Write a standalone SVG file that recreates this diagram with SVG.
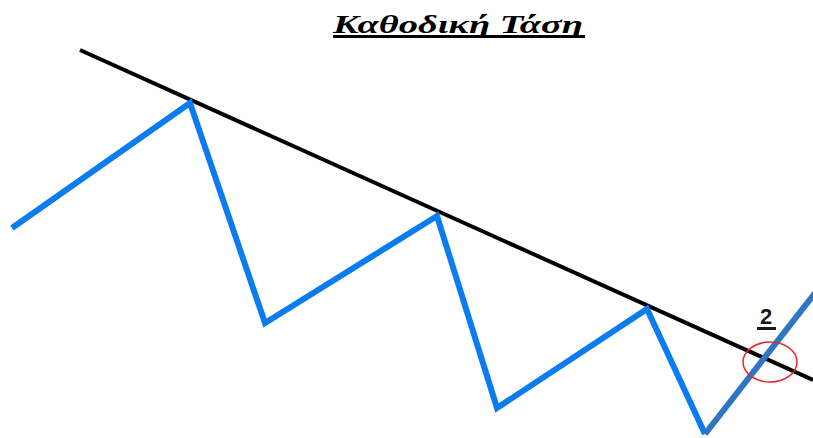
<svg xmlns="http://www.w3.org/2000/svg" width="813" height="438" viewBox="0 0 813 438">
<style>
.title{font-family:"Liberation Serif","DejaVu Serif",serif;font-weight:bold;font-style:italic;font-size:26px;fill:#000}
.lbl{font-family:"Liberation Sans","DejaVu Sans",sans-serif;font-weight:bold;font-size:22px;fill:#1a1a1a}
</style>
<rect width="813" height="438" fill="#fff"/>
<g id="title">
<text class="title" x="333" y="33" textLength="250" lengthAdjust="spacingAndGlyphs">Καθοδική Τάση</text>
<rect x="333" y="35" width="252" height="3" fill="#000"/>
</g>
<g id="connectors">
<line id="trendline" x1="80" y1="50" x2="813" y2="380" stroke="#000" stroke-width="4"/>
<polyline id="price" points="12,228 190,103 265,323 437,216 497,408 647,309 705,434" fill="none" stroke="#0a7cf0" stroke-width="6" stroke-linejoin="miter"/>
<line id="breakout" x1="705" y1="434" x2="815" y2="293" stroke="#2e75c4" stroke-width="6"/>
</g>
<g id="marker2">
<ellipse cx="770" cy="362" rx="27" ry="20" fill="none" stroke="#e8262a" stroke-width="1.5"/>
<text class="lbl" x="766" y="324" text-anchor="middle">2</text>
<rect x="757" y="327" width="19" height="3" fill="#1a1a1a"/>
</g>
</svg>
